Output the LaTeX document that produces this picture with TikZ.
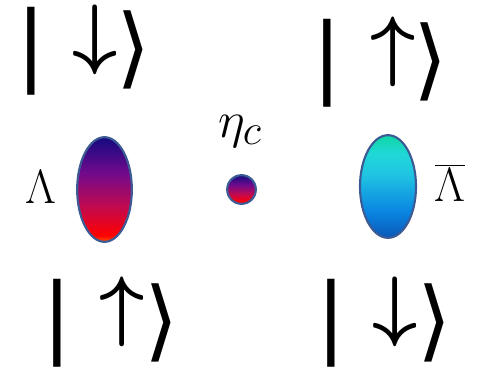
\documentclass[tikz,border=0pt]{standalone}
\usepackage{fontspec}
\usetikzlibrary{shapes.geometric}
\newfontfamily\ketfont{DejaVu Sans}
\definecolor{rimblue}{HTML}{3C5A94}
\definecolor{lA}{HTML}{FF5A00}
\definecolor{lB}{HTML}{FF0000}
\definecolor{lC}{HTML}{C00A50}
\definecolor{lD}{HTML}{700A8C}
\definecolor{lE}{HTML}{140A80}
\definecolor{rA}{HTML}{0A58B8}
\definecolor{rB}{HTML}{0A86E2}
\definecolor{rC}{HTML}{20C4E2}
\definecolor{rD}{HTML}{20D8D8}
\definecolor{rE}{HTML}{0ED6A4}
\pgfdeclareverticalshading{lamshade}{100bp}{color(0bp)=(lA); color(25bp)=(lA); color(28bp)=(lB); color(42bp)=(lC); color(58bp)=(lD); color(75bp)=(lE); color(100bp)=(lE)}
\pgfdeclareverticalshading{barshade}{100bp}{color(0bp)=(rA); color(25bp)=(rA); color(38bp)=(rB); color(56bp)=(rC); color(66bp)=(rD); color(75bp)=(rE); color(100bp)=(rE)}
\newcommand{\upar}{\scalebox{2.37}{\boldmath$\uparrow$}}
\newcommand{\dnar}{\scalebox{2.37}{\boldmath$\downarrow$}}
\tikzset{
  ketbar/.style={inner sep=0pt, font=\ketfont\fontsize{66}{70}\selectfont},
  ketarrow/.style={inner sep=0pt, font=\fontsize{24.88}{30}\selectfont},
  ketbrack/.style={inner sep=0pt, font=\ketfont\fontsize{66}{70}\selectfont},
  label/.style={inner sep=0pt, font=\fontsize{24.88}{30}\selectfont},
  particle/.style={draw=rimblue, line width=1.6pt, ellipse, minimum width=41pt, minimum height=78.5pt, inner sep=0pt},
}
\begin{document}
\begin{tikzpicture}[x=0.75pt,y=-0.75pt]
\useasboundingbox (0,0) rectangle (484,371);
% top left ket
\node[ketbar] (tlbar) at (31,51) {|};
\node[ketarrow] (tlarr) at (95,40) {\dnar};
\node[ketbrack] (tlbr) at (134,50) {⟩};
% top right ket
\node[ketbar] (trbar) at (327,63) {|};
\node[ketarrow] (trarr) at (393,52) {\upar};
\node[ketbrack] (trbr) at (431,62) {⟩};
% bottom left ket
\node[ketbar] (blbar) at (57.5,323) {|};
\node[ketarrow] (blarr) at (122,312) {\upar};
\node[ketbrack] (blbr) at (162,323) {⟩};
% bottom right ket
\node[ketbar] (brbar) at (331,323) {|};
\node[ketarrow] (brarr) at (395,312) {\dnar};
\node[ketbrack] (brbr) at (435,323) {⟩};
% particles
\node[particle, shading=lamshade] (lam) at (104.5,189.5) {};
\node[particle, shading=barshade, minimum width=42pt, minimum height=77pt] (lambar) at (388,186.5) {};
\node[draw=rimblue, line width=1.6pt, circle, minimum size=21.5pt, inner sep=0pt, shading=lamshade] (eta) at (241.5,189.5) {};
% labels
\node[label] (laml) at (41,187) {\scalebox{1.45}{$\Lambda$}};
\node[label] (lambarl) at (450,183) {\scalebox{1.45}{$\overline{\Lambda}$}};
\node[label] (etal) at (240,131) {\scalebox{1.55}{$\eta_c$}};
\end{tikzpicture}
\end{document}
